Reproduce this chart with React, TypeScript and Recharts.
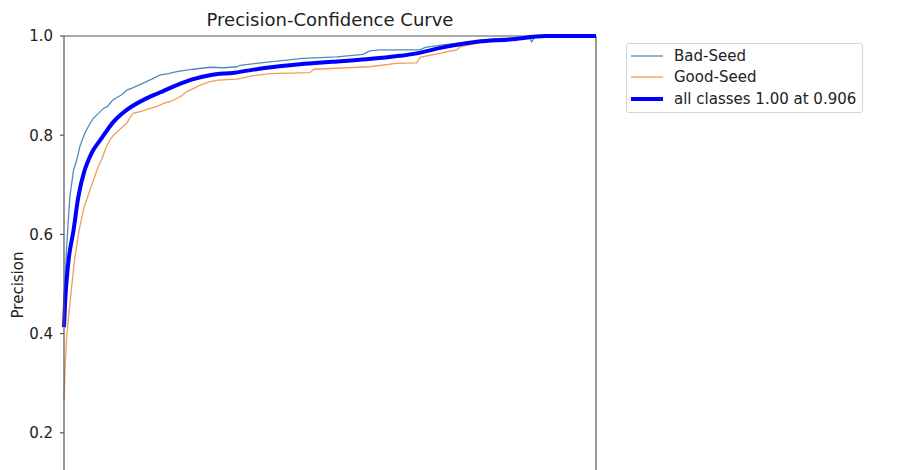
import React from 'react';
import { LineChart, Line, XAxis, YAxis, ReferenceLine, Legend, Label } from 'recharts';

// ---- data ----
const badSeedConf = [0, 0.002, 0.005, 0.011, 0.018, 0.024, 0.030, 0.039, 0.046, 0.055, 0.064, 0.074, 0.082, 0.090, 0.096, 0.108, 0.118, 0.130, 0.149, 0.165, 0.180, 0.196, 0.212, 0.243, 0.274, 0.300, 0.325, 0.331, 0.387, 0.449, 0.513, 0.562, 0.575, 0.594, 0.669, 0.679, 0.712, 0.763, 0.820, 0.876, 0.879, 0.886, 1.0];
const badSeedPrec = [0.47, 0.508, 0.575, 0.676, 0.730, 0.750, 0.778, 0.804, 0.818, 0.834, 0.843, 0.854, 0.858, 0.869, 0.874, 0.881, 0.891, 0.896, 0.905, 0.913, 0.921, 0.924, 0.928, 0.933, 0.937, 0.936, 0.938, 0.941, 0.948, 0.955, 0.958, 0.963, 0.970, 0.972, 0.972, 0.977, 0.982, 0.988, 0.995, 0.995, 0.988, 1.0, 1.0];

const goodSeedConf = [0, 0.002, 0.005, 0.012, 0.020, 0.027, 0.030, 0.037, 0.049, 0.062, 0.071, 0.078, 0.086, 0.093, 0.105, 0.118, 0.124, 0.130, 0.145, 0.162, 0.175, 0.187, 0.200, 0.212, 0.222, 0.231, 0.245, 0.256, 0.274, 0.290, 0.325, 0.356, 0.387, 0.462, 0.470, 0.575, 0.625, 0.663, 0.669, 0.738, 0.744, 0.776, 0.840, 0.880, 1.0];
const goodSeedPrec = [0.266, 0.33, 0.393, 0.47, 0.55, 0.600, 0.616, 0.652, 0.690, 0.730, 0.752, 0.772, 0.790, 0.800, 0.812, 0.824, 0.836, 0.844, 0.848, 0.854, 0.858, 0.864, 0.868, 0.874, 0.880, 0.888, 0.895, 0.901, 0.908, 0.911, 0.913, 0.920, 0.924, 0.926, 0.933, 0.938, 0.945, 0.946, 0.957, 0.972, 0.978, 0.985, 0.993, 1.0, 1.0];

const allConf = [0, 0.002, 0.008, 0.018, 0.027, 0.039, 0.046, 0.055, 0.068, 0.093, 0.118, 0.149, 0.180, 0.212, 0.243, 0.274, 0.320, 0.381, 0.443, 0.505, 0.568, 0.631, 0.663, 0.712, 0.776, 0.838, 0.906, 1.0];
const allPrec = [0.413, 0.462, 0.542, 0.609, 0.676, 0.730, 0.750, 0.770, 0.790, 0.827, 0.851, 0.871, 0.886, 0.901, 0.913, 0.921, 0.926, 0.936, 0.943, 0.948, 0.953, 0.960, 0.965, 0.977, 0.9885, 0.993, 1.0, 1.0];

const seriesNames = ['Bad-Seed', 'Good-Seed', 'all classes 1.00 at 0.906'];
const yTicks = [0.2, 0.4, 0.6, 0.8, 1.0];
const xTicks = [0, 0.2, 0.4, 0.6, 0.8, 1.0];
const titleText = 'Precision-Confidence Curve';
const yLabelText = 'Precision';

const zip = (c: number[], p: number[]) => c.map((x, i) => ({ conf: x, prec: p[i] }));
const badData = zip(badSeedConf, badSeedPrec);
const goodData = zip(goodSeedConf, goodSeedPrec);
const allData = zip(allConf, allPrec);

const FONT = '"DejaVu Sans", sans-serif';
const COLORS = ['#508cb8', '#f29d55', '#0000ff'];
const WIDTHS = [1.3, 1.3, 4];

const renderYLabel = () => (
  <text
    x={10}
    y={277}
    transform="rotate(-90 10 277)"
    textAnchor="middle"
    dominantBaseline="central"
    fontFamily={FONT}
    fontSize={15}
    fill="#222"
  >
    {yLabelText}
  </text>
);

const renderLegend = () => (
  <div
    style={{
      position: 'relative',
      width: 237,
      height: 70,
      border: '1px solid #d6d6d6',
      borderRadius: 3,
      boxSizing: 'border-box',
      background: '#fff',
      fontFamily: FONT,
      fontSize: 15,
      color: '#222',
    }}
  >
    {seriesNames.map((n, i) => {
      const cy = [12, 33, 55][i];
      return (
        <div key={n}>
          <svg
            style={{ position: 'absolute', left: 3, top: cy - 4 }}
            width={34}
            height={8}
          >
            <line x1={1} y1={4} x2={33} y2={4} stroke={COLORS[i]} strokeWidth={WIDTHS[i]} />
          </svg>
          <div
            style={{
              position: 'absolute',
              left: 47,
              top: cy - 10,
              height: 20,
              lineHeight: '20px',
              whiteSpace: 'nowrap',
            }}
          >
            {n}
          </div>
        </div>
      );
    })}
  </div>
);

export default function App() {
  return (
    <div style={{ width: 895, height: 462, overflow: 'hidden', position: 'relative', background: '#fff' }}>
      <div
        style={{
          position: 'absolute',
          left: 122,
          width: 400,
          top: 1,
          textAlign: 'center',
          fontFamily: FONT,
          fontSize: 18,
          lineHeight: '22px',
          color: '#222',
          zIndex: 2,
        }}
      >
        {titleText}
      </div>
      <LineChart
        width={895}
        height={600}
        margin={{ top: 28, right: 307, bottom: 46, left: 0 }}
      >
        <XAxis
          dataKey="conf"
          type="number"
          domain={[0, 1]}
          ticks={xTicks}
          stroke="#555"
          tick={false}
          tickSize={4}
          height={30}
          allowDuplicatedCategory={false}
        />
        <YAxis
          dataKey="prec"
          type="number"
          domain={[0, 1]}
          ticks={yTicks}
          tickFormatter={(v: number) => v.toFixed(1)}
          stroke="#555"
          strokeWidth={1.2}
          tick={{ fill: '#222', fontFamily: FONT, fontSize: 15 }}
          tickSize={4}
          tickMargin={7}
          width={56}
          label={<Label content={renderYLabel} />}
        />
        <ReferenceLine y={1} stroke="#555" strokeWidth={1.2} />
        <ReferenceLine x={1} stroke="#555" strokeWidth={1.2} />
        <Line
          data={badData}
          dataKey="prec"
          name={seriesNames[0]}
          type="linear"
          stroke={COLORS[0]}
          strokeWidth={WIDTHS[0]}
          dot={false}
          activeDot={false}
          isAnimationActive={false}
        />
        <Line
          data={goodData}
          dataKey="prec"
          name={seriesNames[1]}
          type="linear"
          stroke={COLORS[1]}
          strokeWidth={WIDTHS[1]}
          dot={false}
          activeDot={false}
          isAnimationActive={false}
        />
        <Line
          data={allData}
          dataKey="prec"
          name={seriesNames[2]}
          type="monotone"
          stroke={COLORS[2]}
          strokeWidth={WIDTHS[2]}
          dot={false}
          activeDot={false}
          isAnimationActive={false}
        />
        <Legend
          verticalAlign="middle"
          align="center"
          layout="horizontal"
          content={renderLegend}
          wrapperStyle={{ position: 'absolute', left: 618, top: 35, width: 237, height: 70 }}
        />
      </LineChart>
    </div>
  );
}
